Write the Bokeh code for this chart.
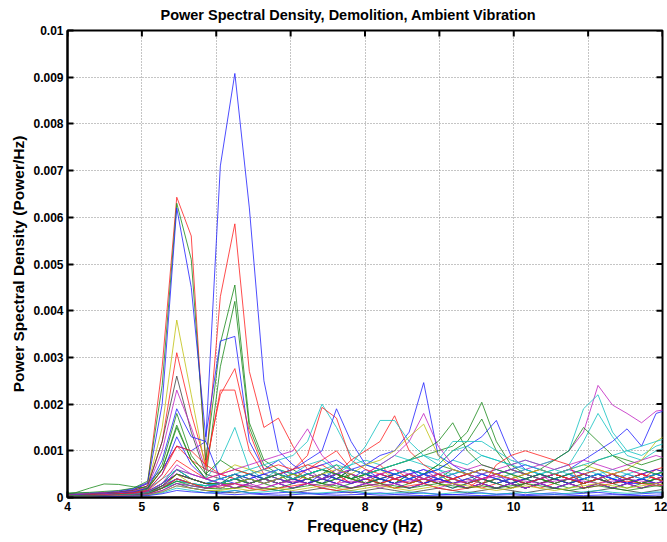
import math
from bokeh.plotting import figure
from bokeh.models import FixedTicker, ColumnDataSource
from bokeh.embed import file_html
from bokeh.resources import INLINE

# Frequency bins (Hz), df = 200/1024
freq = [3.906, 4.102, 4.297, 4.492, 4.688, 4.883, 5.078, 5.273, 5.469, 5.664, 5.859,
        6.055, 6.250, 6.445, 6.641, 6.836, 7.031, 7.227, 7.422, 7.617, 7.813, 8.008,
        8.203, 8.398, 8.594, 8.789, 8.984, 9.180, 9.375, 9.570, 9.766, 9.961, 10.156,
        10.352, 10.547, 10.742, 10.938, 11.133, 11.328, 11.523, 11.719, 11.914, 12.109]

# PSD values in units of 1e-4 Power/Hz
psd_01 = [0.8,0.9,1.0,1.1,1.4,1.9, 3.2,6.0,11,10,12,71, 90.8,62,25,10,7,5, 4,6,5,4,3,5, 6,4,3,2,3,4, 5,3,4,3,2,3, 4,5,4,3,3,4,5]
psd_02 = [0.6,0.7,0.8,1.0,1.2,1.6, 3,28,64.3,56,6.5,43, 58.6,27,15,17,11,6, 8,10,6,5,7,4, 3,5,4,3,2,4, 3,2,3,4,5,4, 3,4,5,3,4,6,7]
psd_03 = [0.9,1.0,1.1,1.3,1.5,2.0, 3.5,24,63,51,8,33, 45.5,16,8,6,5,4, 5,7,4,3,4,3, 5,3,4,6,5,4, 3,4,2,3,4,3, 5,4,3,4,3,3,4]
psd_04 = [0.5,0.6,0.8,0.9,1.2,1.7, 3,20,62,45,13,33.5, 34.5,12,6,8,5,4, 3,5,4,6,4,3, 4,5,3,4,3,5, 4,3,2,3,4,5, 3,4,3,5,4,3,4]
psd_05 = [0.4,0.5,0.6,0.7,0.9,1.2, 2,6,15,8,4,28, 42,15,7,5,6,4, 3,4,6,5,3,4, 3,4,5,3,4,3, 2,3,4,3,2,3, 4,3,2,3,4,5,4]
psd_06 = [0.5,0.6,0.7,0.8,1.0,1.4, 2.5,12,31,18,7,22, 27.6,14,6,5,4,6, 7,5,4,3,5,6, 4,3,5,4,3,2, 3,4,3,2,3,4, 5,4,3,4,5,4,3]
psd_07 = [0.4,0.5,0.5,0.6,0.8,1.1, 2,6,11,8,6,23, 23,10,5,4,3,5, 4,3,5,4,3,4, 5,3,4,3,2,3, 4,3,2,3,4,3, 2,3,4,3,2,3,4]
psd_08 = [0.3,0.4,0.5,0.6,0.8,1.0, 1.8,4,6,5,4,8, 15,6,4,3,4,5, 6,4,3,5,4,3, 4,5,6,4,3,4, 3,4,5,4,3,4, 5,6,4,3,4,5,6]
psd_09 = [0.5,0.6,0.6,0.8,1.0,1.3, 2.5,15,38,22,6,5, 7,6,5,4,3,4, 5,4,3,5,6,4, 3,4,5,3,4,3, 4,5,3,4,3,4, 3,4,5,4,3,5,6]
psd_10 = [0.6,0.7,0.7,0.9,1.1,1.5, 2.5,12,26,14,5,4, 5,3,4,3,2,3, 4,3,2,3,4,3, 2,3,4,3,2,3, 2,3,2,3,4,3, 2,3,2,3,4,3,2]
psd_11 = [0.5,0.6,0.7,0.8,1.0,1.3, 2.2,10,23,15,6,5, 4,5,3,4,5,6, 4,5,3,4,5,4, 3,5,4,3,4,3, 4,3,4,5,3,4, 3,4,3,4,5,4,3]
psd_12 = [0.4,0.5,0.6,0.7,0.9,1.2, 2,8,19,13,12,4, 3,4,5,6,4,3, 5,4,6,5,4,3, 4,3,4,5,3,4, 3,4,3,4,5,4, 3,4,5,3,4,3,4]
psd_13 = [0.7,1.0,2.0,2.9,2.8,2.3, 2,7,18,9,5,8, 6,5,4,5,3,4, 3,4,5,3,4,3, 5,4,3,4,5,3, 4,3,4,5,4,3, 4,5,3,4,3,4,5]
psd_14 = [0.3,0.4,0.5,0.6,0.8,1.0, 1.8,6,15.5,8,4,3, 5,4,3,2,3,4, 3,2,3,4,3,2, 3,4,3,2,3,4, 3,2,3,4,3,2, 3,4,3,2,3,4,3]
psd_15 = [0.3,0.4,0.4,0.5,0.7,1.0, 1.5,5,13,7,4,3, 2,3,4,3,2,3, 4,3,2,3,4,3, 2,3,4,3,2,3, 2,3,2,3,2,3, 2,3,2,3,2,3,2]
psd_16 = [0.4,0.4,0.5,0.6,0.8,1.0, 1.6,5,11,10,7,5, 4,3,4,5,4,3, 4,5,3,4,3,4, 3,4,5,4,3,4, 5,4,3,4,5,4, 3,4,3,4,5,6,5]
psd_17 = [0.3,0.3,0.4,0.5,0.6,0.8, 1.2,3,6,4,3,2, 3,4,5,4,5,6, 7,8,6,7,9,10, 14,24.6,9,7,5,6, 5,4,3,4,5,6, 5,4,3,4,5,6,5]
psd_18 = [0.2,0.3,0.3,0.4,0.5,0.6, 1,3,5,4,3,2, 3,2,3,4,3,4, 5,4,3,4,5,4, 5,6,4,5,6,7, 6,5,6,7,8,10, 14,24,19.8,18,16,18.5,19]
psd_19 = [0.3,0.3,0.4,0.5,0.6,0.7, 1,2.5,4,3,2.5,3, 4,5,4,6,5,7, 8,6,7,8,7,9, 8,7,6,8,7,9, 8,7,8,7,8,10, 19,22,14,10,9,11,12]
psd_20 = [0.2,0.3,0.3,0.4,0.5,0.6, 1,2,3,2.5,2,3, 4,3,4,3,4,5, 4,5,4,5,6,5, 4,5,6,5,6,5, 6,5,4,5,6,7, 12,18,13,9,8,10,11]
psd_21 = [0.3,0.3,0.4,0.4,0.5,0.6, 1,2,3.5,3,2.5,3, 3,4,3,4,5,4, 5,4,6,5,4,5, 6,5,7,6,5,6, 5,6,5,6,8,10, 15,12,9,8,7,8,9]
psd_22 = [0.3,0.4,0.4,0.5,0.6,0.8, 1.4,3,5,4,3,4, 5,4,3,4,3,4, 5,4,3,4,5,4, 5,6,5,4,5,6, 5,6,7,6,5,6, 8,10,12,14.7,11,18,19]
psd_23 = [0.3,0.3,0.4,0.5,0.6,0.8, 1.2,3,6,4,3,3, 4,5,4,3,4,5, 6,5,4,5,6,7, 8,9,10,11,14,20.4, 12,7,5,4,5,4, 3,4,5,4,3,4,5]
psd_24 = [0.2,0.3,0.3,0.4,0.5,0.6, 1,2,4,3,2,3, 2,3,4,3,4,3, 4,5,4,3,4,5, 6,5,7,10,12,16.8, 10,6,5,4,3,4, 5,4,3,4,5,4,3]
psd_25 = [0.2,0.3,0.3,0.4,0.5,0.7, 1,2.5,4,3,2,3, 4,3,4,5,4,3, 4,5,6,5,4,5, 6,5,6,8,11,13, 16.5,9,6,5,4,5, 4,5,4,3,4,5,4]
psd_26 = [0.3,0.3,0.4,0.5,0.6,0.7, 1.1,3,6,4,3,4, 5,6,7,8,9,12, 20,15,9,7,6,5, 6,5,4,5,6,5, 4,5,6,5,4,5, 6,5,4,5,6,5,4]
psd_27 = [0.4,0.4,0.5,0.6,0.7,0.9, 1.4,4,8,6,4,5, 6,5,6,7,6,9, 19.3,17,8,6,5,4, 5,4,3,4,5,4, 5,4,3,4,5,4, 3,4,5,6,5,4,5]
psd_28 = [0.2,0.3,0.3,0.4,0.5,0.6, 1,2.5,5,4,3,3, 4,5,4,5,6,8, 10,19,12,7,6,5, 4,5,4,3,4,5, 4,3,4,5,4,3, 4,5,4,3,4,5,4]
psd_29 = [0.3,0.3,0.4,0.5,0.6,0.7, 1.2,3,7,5,4,5, 6,7,8,9,10,14.7, 9,6,5,4,5,6, 5,4,5,6,5,4, 5,6,5,4,5,6, 5,4,5,6,5,4,5]
psd_30 = [0.3,0.3,0.4,0.4,0.5,0.6, 1,2.5,5,4,3,3, 4,3,4,5,6,7, 6,5,8,10,12,17.5, 10,7,5,4,5,6, 5,4,5,6,5,4, 5,6,5,4,5,4,3]
psd_31 = [0.2,0.2,0.3,0.3,0.4,0.5, 0.8,2,4,3,2.5,3, 4,3,4,5,4,5, 6,5,7,11,16.5,16.5, 12,9,7,10,11,9, 8,7,6,5,6,5, 4,5,6,5,4,5,6]
psd_32 = [0.2,0.3,0.3,0.4,0.5,0.6, 0.9,2,4,3,2,3, 2,3,4,3,4,5, 4,5,6,5,7,9, 12,18,11,7,6,5, 6,7,8,7,6,7, 8,7,6,7,8,9,8]
psd_33 = [0.2,0.2,0.3,0.3,0.4,0.5, 0.8,2,5,3,2,2, 3,4,3,4,5,4, 5,6,5,7,8,10, 13,15.7,9,6,5,6, 5,4,5,6,5,6, 7,6,5,6,8,12,14]
psd_34 = [0.3,0.3,0.4,0.4,0.5,0.6, 1,2.5,5,4,3,3, 4,3,4,5,4,5, 6,5,4,5,6,7, 8,10,12,16,10,7, 6,5,4,5,4,5, 6,8,9,7,6,5,6]
psd_35 = [0.2,0.3,0.3,0.4,0.5,0.6, 1,2,3.5,3,2.5,3, 4,5,6,5,4,5, 6,7,6,5,6,7, 8,9,8,12,12,12, 10,8,7,6,5,6, 7,8,9,10,11,12,13]
psd_36 = [0.2,0.2,0.3,0.3,0.4,0.5, 0.8,2,6,5,4,3, 2,3,2,3,2,3, 2,3,2,3,2,3, 2,3,2,3,2,3, 2,3,2,3,2,3, 2,3,2,3,2,3,2]
psd_37 = [0.2,0.2,0.3,0.3,0.3,0.4, 0.6,1.5,3,2,1.5,1.2, 1,1.5,2,1.5,1,1.5, 2,1.5,1,1.5,2,1.5, 1,1.5,2,1.5,1,1.5, 2,1.5,1,1.5,2,1.5, 1,1.5,2,1.5,1,1.5,2]
psd_38 = [0.1,0.2,0.2,0.3,0.3,0.4, 0.7,2,4,3,2,2.5, 3,2,1.5,2,2.5,3, 2,1.5,2,2.5,3,2, 2.5,3,2,1.5,2,2.5, 7,9,10,9,8,7, 2,2.5,3,3.5,3,2.5,3]
psd_39 = [0.2,0.2,0.2,0.3,0.3,0.4, 0.6,1.2,2.5,2,1.5,1, 1.5,1,0.8,1,1.2,1, 0.8,1,1.2,0.8,1,0.7, 0.8,1,0.7,0.6,0.8,1, 0.7,0.9,0.6,0.8,1,0.7, 0.9,1.1,0.8,0.6,0.8,1,0.9]
psd_40 = [0.3,0.3,0.4,0.4,0.5,0.5, 0.8,2,3.5,2.5,2,1.8, 2,2.5,2,1.5,2,2.5, 3,2.5,2,2.5,3,2.5, 2,2.5,3,2.5,2,2.5, 2,2.5,3,2.5,2,1.5, 2,2.5,2,1.5,2,2.5,2]
psd_41 = [0.1,0.1,0.2,0.2,0.2,0.3, 0.5,1,2,1.5,1,1.2, 1.5,1,1.2,1.5,1,0.8, 1,1.2,1.5,1,0.8,1, 1.2,0.9,0.7,1,1.2,0.9, 0.7,0.9,1.1,0.8,0.7,0.9, 1.2,1.5,1.1,0.9,1,1.2,1.1]
psd_42 = [0.2,0.2,0.3,0.3,0.4,0.4, 0.7,1.5,3,2.5,2,2.5, 3,2.5,2,3,3.5,3, 2.5,3,3.5,3,2.5,3, 3.5,4,3.5,3,3.5,4, 4.5,4,3.5,3,3.5,4, 3.5,3,3.5,4,3.5,3,4]
psd_43 = [0.1,0.2,0.2,0.2,0.3,0.3, 0.5,1.2,2.5,2,1.5,1.5, 2,1.5,1.8,2,1.5,2, 2.5,2,1.5,2,2.5,2, 1.5,2,2.5,3,2.5,2, 1.5,2,2.5,2,1.5,2, 2.5,3,2.5,2,2.5,3,2.5]
psd_44 = [0.1,0.1,0.1,0.2,0.2,0.3, 0.4,0.8,1.5,1.2,1,0.8, 0.6,0.8,0.6,0.5,0.6,0.8, 0.6,0.5,0.6,0.7,0.5,0.6, 0.5,0.4,0.5,0.6,0.5,0.4, 0.5,0.6,0.4,0.5,0.6,0.5, 0.4,0.5,0.6,0.5,0.4,0.5,0.6]

series = [psd_01, psd_02, psd_03, psd_04, psd_05, psd_06, psd_07, psd_08, psd_09, psd_10,
          psd_11, psd_12, psd_13, psd_14, psd_15, psd_16, psd_17, psd_18, psd_19, psd_20,
          psd_21, psd_22, psd_23, psd_24, psd_25, psd_26, psd_27, psd_28, psd_29, psd_30,
          psd_31, psd_32, psd_33, psd_34, psd_35, psd_36, psd_37, psd_38, psd_39, psd_40,
          psd_41, psd_42, psd_43, psd_44]
series_colors = ["b", "r", "g", "b", "g", "r", "r", "c", "y", "k",
                 "m", "b", "g", "g", "b", "r", "b", "m", "c", "c",
                 "g", "b", "g", "g", "b", "c", "r", "b", "m", "r",
                 "c", "m", "y", "g", "c", "m", "k", "r", "b", "g",
                 "c", "m", "y", "b"]

x_ticks = [4, 5, 6, 7, 8, 9, 10, 11, 12]
y_ticks = [0, 0.001, 0.002, 0.003, 0.004, 0.005, 0.006, 0.007, 0.008, 0.009, 0.01]
y_tick_labels = ["0", "0.001", "0.002", "0.003", "0.004", "0.005", "0.006", "0.007", "0.008", "0.009", "0.01"]

matlab = {"b": "#2020ff", "g": "#1a8a1a", "r": "#ff2020", "c": "#10c0c0",
          "m": "#c020c0", "y": "#c0c010", "k": "#404040"}

FONT = "Liberation Sans"
X0, X1, Y0, Y1 = 4, 12, 0, 0.01

p = figure(width=667, height=542, x_range=(X0, X1), y_range=(Y0, Y1),
           output_backend="svg", toolbar_location=None,
           min_border_left=67, min_border_right=5, min_border_top=29, min_border_bottom=45,
           title="Power Spectral Density, Demolition, Ambient Vibration")

for vals, c in zip(series, series_colors):
    assert len(vals) == len(freq)
    src = ColumnDataSource(dict(x=freq, y=[v * 1e-4 for v in vals]))
    p.line("x", "y", source=src, line_color=matlab[c], line_width=1, line_alpha=0.8)

p.title.text_font = FONT
p.title.text_font_size = "14.5px"
p.title.text_font_style = "bold"
p.title.align = "left"
p.title.offset = 93
p.title.vertical_align = "top"
p.title.standoff = 12
p.title.text_color = "black"

p.outline_line_color = "black"
p.outline_line_width = 2
p.background_fill_color = "white"
p.border_fill_color = "white"

xt = FixedTicker(ticks=x_ticks, minor_ticks=[])
yt = FixedTicker(ticks=y_ticks, minor_ticks=[])
overrides = {t: l for t, l in zip(y_ticks, y_tick_labels)}

p.xaxis.ticker = xt
p.yaxis.ticker = yt
p.yaxis.major_label_overrides = overrides

p.xgrid.ticker = xt
p.ygrid.ticker = yt
for g in (p.xgrid, p.ygrid):
    g.grid_line_color = "#8a8a8a"
    g.grid_line_dash = "1 2"
    g.grid_line_width = 1

for ax in (p.xaxis[0], p.yaxis[0]):
    ax.axis_line_color = "black"
    ax.axis_line_width = 2
    ax.major_tick_in = 6
    ax.major_tick_out = 0
    ax.major_tick_line_color = "black"
    ax.major_tick_line_width = 2
    ax.minor_tick_line_color = None
    ax.major_label_text_font = FONT
    ax.major_label_text_font_style = "bold"
    ax.major_label_text_font_size = "12px"
    ax.major_label_text_color = "black"
    ax.axis_label_text_font = FONT
    ax.axis_label_text_font_style = "bold"
    ax.axis_label_text_color = "black"

p.xaxis[0].axis_label = "Frequency (Hz)"
p.xaxis[0].axis_label_text_font_size = "16px"
p.xaxis[0].axis_label_standoff = 4
p.xaxis[0].major_label_standoff = 4
p.yaxis[0].axis_label = "Power Spectral Density (Power/Hz)"
p.yaxis[0].axis_label_text_font_size = "15.5px"
p.yaxis[0].axis_label_standoff = 3
p.yaxis[0].major_label_standoff = 4

# inward tick marks on the top and right edges of the box (clipped to the frame)
p.scatter(x_ticks, [Y1] * len(x_ticks), marker="dash", size=12, angle=math.pi / 2,
          line_color="black", line_width=2)
p.scatter([X1] * len(y_ticks), y_ticks, marker="dash", size=12,
          line_color="black", line_width=2)

open("out.html", "w").write(file_html(p, INLINE))
